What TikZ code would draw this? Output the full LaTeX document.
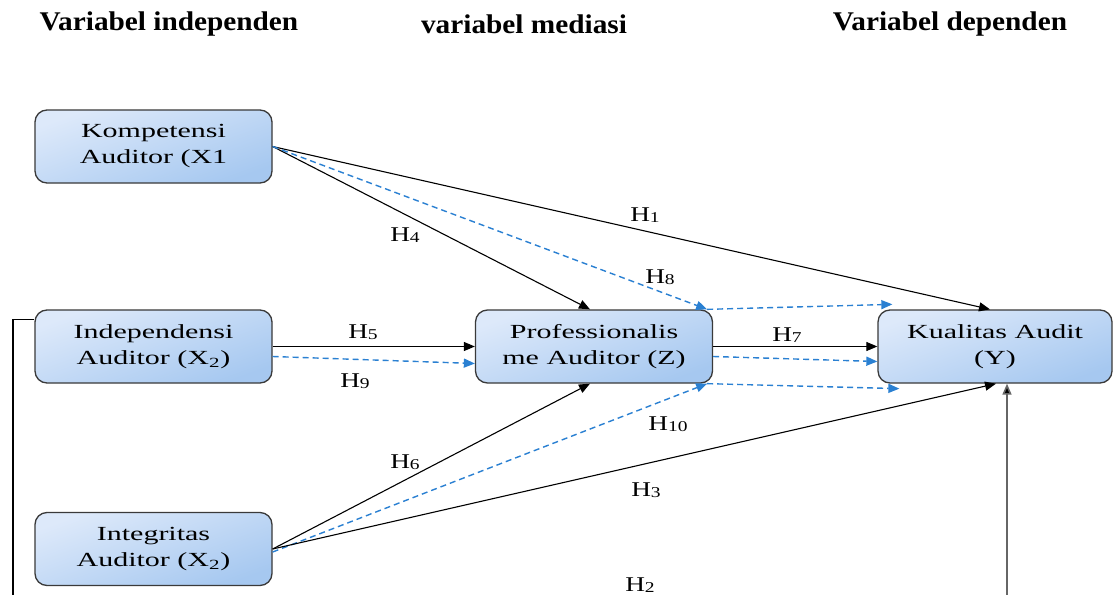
\documentclass[tikz,border=0pt]{standalone}
\usepackage{fontspec}
\setmainfont{Liberation Serif}
\usetikzlibrary{arrows.meta}
\definecolor{dblue}{HTML}{2A80D2}
\definecolor{boxtop}{HTML}{DDE9FA}
\definecolor{boxbot}{HTML}{A6C8F0}
\definecolor{boxline}{HTML}{3A3A3A}
\newcommand\bxt[1]{\scalebox{1.5}[1]{#1}}
\newcommand\hlab[1]{\scalebox{1.3}[1]{H\raisebox{-0.15ex}{\fontsize{15}{15}\selectfont #1}}}
\newcommand\hdr[1]{\scalebox{1.085}[1]{#1}}
\begin{document}
\begin{tikzpicture}[x=1pt,y=-1pt,
  box/.style={draw=boxline, line width=1.3pt, rounded corners=12pt,
    top color=boxtop, bottom color=boxbot, shading angle=20,
    minimum width=237pt, minimum height=73pt, align=center,
    inner sep=0pt, font=\fontsize{20}{26}\selectfont},
  sarr/.style={draw=black, line width=1.1pt, -{Triangle[length=11pt,width=9pt]}},
  darr/.style={draw=dblue, line width=1.4pt, dash pattern=on 6pt off 4pt,
    -{Triangle[length=11pt,width=9pt]}},
  hl/.style={font=\fontsize{21}{21}\selectfont, inner sep=0pt},
  hd/.style={font=\fontsize{27}{27}\bfseries\selectfont, inner sep=0pt}]
\useasboundingbox (0,0) rectangle (1113,594);
\fill[white] (0,0) rectangle (1113,594);

% headers
\node[hd] (t1) at (169,24) {\hdr{Variabel independen}};
\node[hd] (t2) at (524,24) {\hdr{variabel mediasi}};
\node[hd] (t3) at (950,24) {\hdr{Variabel dependen}};

% boxes
\node[box] (komp)  at (153.5,146.5) {\bxt{Kompetensi}\\\bxt{Auditor (X1}};
\node[box] (indep) at (153.5,346.5) {\bxt{Independensi}\\\bxt{Auditor (X\textsubscript{2})}};
\node[box] (integ) at (153.5,549) {\bxt{Integritas}\\\bxt{Auditor (X\textsubscript{2})}};
\node[box] (prof)  at (594,346.5) {\bxt{Professionalis}\\\bxt{me Auditor (Z)}};
\node[box, minimum width=234pt] (kual) at (995,346.5) {\bxt{Kualitas Audit}\\\bxt{(Y)}};

% coordinates for free ends
\coordinate (lb) at (13,597);
\coordinate (rb) at (1007,597);

% connectors from Kompetensi
\draw[sarr] (komp.east) -- ([xshift=-5pt]kual.north);
\draw[sarr] (komp.east) -- ([xshift=-4pt]prof.north);
\draw[darr] (komp.east) -- ([xshift=-6pt]prof.north east);
\draw[darr] ([xshift=-6pt]prof.north east) -- ([xshift=15pt,yshift=5pt]kual.north west);

% from Independensi
\draw[sarr] (indep.east) -- (prof.west);
\draw[darr] ([yshift=-10pt]indep.east) -- ([yshift=-17pt]prof.west);

% from Professionalisme
\draw[sarr] (prof.east) -- (kual.west);
\draw[darr] ([yshift=-10pt]prof.east) -- ([yshift=-15pt]kual.west);
\draw[darr] ([xshift=-6pt]prof.south east) -- ([xshift=22pt,yshift=-5pt]kual.south west);

% from Integritas
\draw[sarr] (integ.east) -- ([xshift=-4pt]prof.south);
\draw[darr] ([yshift=-3pt]integ.east) -- ([xshift=-6pt]prof.south east);
\draw[sarr] (integ.east) -- ([xshift=1pt]kual.south);

% H2 path (cut at bottom)
\draw[line width=1.1pt] ([yshift=27pt]indep.west) -| (lb);
\draw[draw=black!60, line width=1.6pt, -{Triangle[length=11pt,width=9pt,fill=black]}] (rb) -- ([xshift=12pt]kual.south);

% labels
\node[hl] (h1) at (645,215) {\hlab{1}};
\node[hl] (h4) at (405,235) {\hlab{4}};
\node[hl] (h8) at (660,277) {\hlab{8}};
\node[hl] (h5) at (363,332) {\hlab{5}};
\node[hl] (h9) at (355,381) {\hlab{9}};
\node[hl] (h7) at (787,335) {\hlab{7}};
\node[hl] (h10) at (668,424) {\hlab{10}};
\node[hl] (h6) at (405,462) {\hlab{6}};
\node[hl] (h3) at (646,490) {\hlab{3}};
\node[hl] (h2) at (640,585) {\hlab{2}};
\end{tikzpicture}
\end{document}
